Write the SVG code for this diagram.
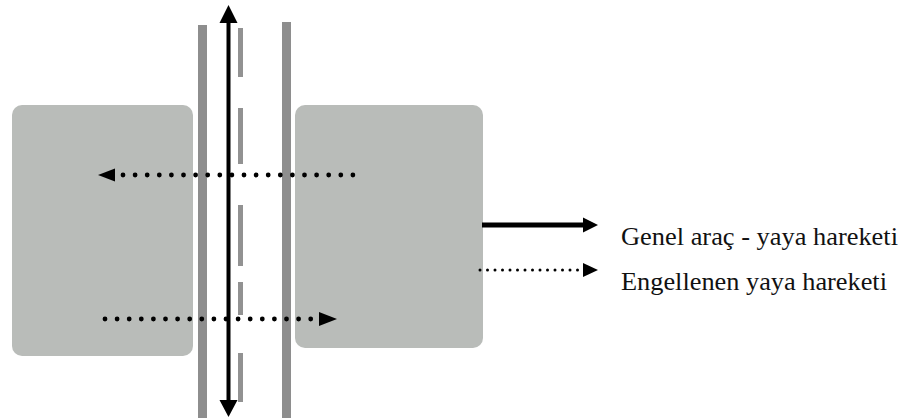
<svg xmlns="http://www.w3.org/2000/svg" width="913" height="418" viewBox="0 0 913 418">
<style>
.block{fill:#b9bcb9}
.road{fill:#8e8e8e}
.dash{fill:#929292}
.dots{stroke:#000;stroke-width:4.8;stroke-linecap:round;stroke-dasharray:0 12.1;fill:none}
.sdots{stroke:#000;stroke-width:3;stroke-linecap:round;stroke-dasharray:0 7.5;fill:none}
.solid{stroke:#000;fill:none}
.head{fill:#000}
.lbl{font-family:"Liberation Serif","Times New Roman",serif;font-size:26px;fill:#111}
</style>
<rect width="913" height="418" fill="#fff"/>
<g id="left-block"><rect class="block" x="12" y="105" width="181" height="251" rx="10"/></g>
<g id="right-block"><rect class="block" x="295" y="105" width="188" height="243" rx="10"/></g>
<g id="road">
<rect class="road" x="198" y="25" width="9" height="393"/>
<rect class="road" x="282" y="22" width="9" height="396"/>
<rect class="dash" x="238" y="28" width="5" height="49"/>
<rect class="dash" x="238" y="108" width="5" height="56"/>
<rect class="dash" x="238" y="205" width="5" height="61"/>
<rect class="dash" x="238" y="282" width="5" height="33"/>
<rect class="dash" x="238" y="353" width="5" height="49"/>
</g>
<g id="connectors">
<line class="solid" x1="228.5" y1="22" x2="228.5" y2="401" stroke-width="4"/>
<polygon class="head" points="228.5,5 219.5,23 237.5,23"/>
<polygon class="head" points="228.5,417 219.5,400 237.5,400"/>
<line class="dots" x1="123" y1="175" x2="353" y2="175"/>
<polygon class="head" points="98,175 115,168.5 115,181.5"/>
<line class="dots" x1="105" y1="319" x2="311" y2="319"/>
<polygon class="head" points="337,319 319,312 319,326"/>
</g>
<g id="legend">
<line class="solid" x1="482" y1="225" x2="585" y2="225" stroke-width="5"/>
<polygon class="head" points="598,225 583,217.5 583,232.5"/>
<line class="sdots" x1="480" y1="270" x2="578" y2="270"/>
<polygon class="head" points="598,270 583,263 583,277"/>
<text class="lbl" x="621" y="245" textLength="277" lengthAdjust="spacingAndGlyphs">Genel araç - yaya hareketi</text>
<text class="lbl" x="621" y="290" textLength="266" lengthAdjust="spacingAndGlyphs">Engellenen yaya hareketi</text>
</g>
</svg>
